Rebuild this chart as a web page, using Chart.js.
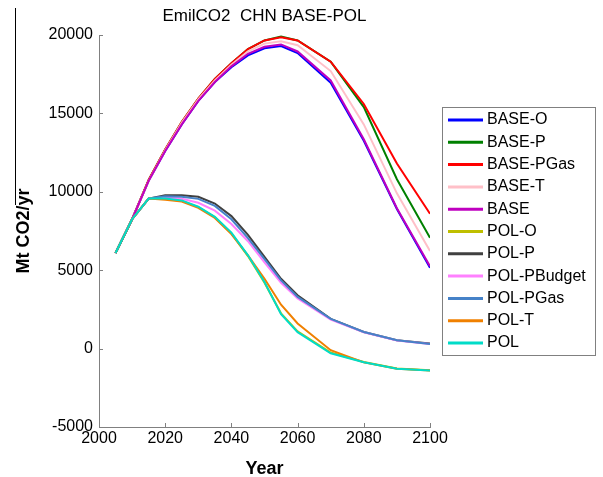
<!DOCTYPE html>
<html>
<head>
<meta charset="utf-8">
<script src="https://cdn.jsdelivr.net/npm/chart.js@4"></script>
<style>
  body { margin: 0; background: #fff; }
</style>
</head>
<body>
<canvas id="emiChart" width="603" height="477"></canvas>
<script>
// years of the model output (5-yr steps to 2060, then 10-yr)
const years = [2005, 2010, 2015, 2020, 2025, 2030, 2035, 2040, 2045, 2050, 2055, 2060, 2070, 2080, 2090, 2100];

const seriesNames = ['BASE-O', 'BASE-P', 'BASE-PGas', 'BASE-T', 'BASE',
                     'POL-O', 'POL-P', 'POL-PBudget', 'POL-PGas', 'POL-T', 'POL'];

// Mt CO2/yr
const baseO      = [6100, 8250, 10700, 12600, 14300, 15800, 17000, 17950, 18700, 19150, 19300, 18850, 16950, 13250, 8900, 5150];
const baseP      = [6100, 8250, 10750, 12700, 14450, 15950, 17200, 18200, 19100, 19650, 19900, 19650, 18300, 15400, 10800, 7070];
const basePGas   = [6100, 8250, 10750, 12700, 14450, 15950, 17200, 18200, 19100, 19650, 19850, 19650, 18300, 15600, 11800, 8600];
const baseT      = [6100, 8250, 10700, 12650, 14400, 15900, 17100, 18100, 18950, 19450, 19600, 19350, 17700, 14300, 9900, 6230];
const base       = [6100, 8250, 10700, 12600, 14300, 15800, 17000, 18000, 18800, 19250, 19400, 18950, 17100, 13350, 8950, 5250];
const polO       = [6100, 8250, 9570, 9550, 9420, 9020, 8380, 7350, 5900, 4200, 2250, 1100, -250, -850, -1270, -1380];
const polP       = [6100, 8250, 9570, 9780, 9780, 9680, 9250, 8450, 7250, 5850, 4450, 3400, 1900, 1060, 530, 320];
const polPBudget = [6100, 8250, 9570, 9650, 9550, 9300, 8800, 7950, 6850, 5500, 4200, 3200, 1850, 1040, 520, 300];
const polPGas    = [6100, 8250, 9570, 9720, 9680, 9550, 9100, 8250, 7050, 5700, 4350, 3300, 1900, 1060, 530, 300];
const polT       = [6100, 8250, 9570, 9500, 9380, 8980, 8330, 7300, 5950, 4450, 2800, 1600, -100, -880, -1280, -1390];
const pol        = [6100, 8250, 9570, 9570, 9450, 9050, 8400, 7400, 5950, 4250, 2200, 1050, -300, -870, -1280, -1390];

const yTicks = [-5000, 0, 5000, 10000, 15000, 20000];
const xTicks = [2000, 2020, 2040, 2060, 2080, 2100];

const allSeries = [baseO, baseP, basePGas, baseT, base, polO, polP, polPBudget, polPGas, polT, pol];
const colors = ['#0000ff', '#008000', '#ff0000', '#ffc0c8', '#bf00bf',
                '#bfbf00', '#404040', '#ff80ff', '#4682c8', '#f08000', '#00dcc8'];

const font = "'Liberation Sans', Arial, Helvetica, sans-serif";

const datasets = allSeries.map((vals, i) => ({
  label: seriesNames[i],
  data: years.map((yr, j) => ({ x: yr, y: vals[j] })),
  borderColor: colors[i],
  backgroundColor: colors[i],
  borderWidth: 2,
  pointRadius: 0,
  tension: 0,
  fill: false,
  order: -i   // later series on top, like the original plot
}));

// title, inward ticks and the boxed legend
const decor = {
  id: 'decor',
  afterDraw(chart) {
    const c = chart.ctx;
    const area = chart.chartArea;
    const xs = chart.scales.x, ys = chart.scales.y;
    c.save();

    c.fillStyle = '#000';
    c.font = '17px ' + font;
    c.textAlign = 'center';
    c.textBaseline = 'middle';
    c.fillText('EmilCO2  CHN BASE-POL', (area.left + area.right) / 2, 16);

    c.strokeStyle = '#808080';
    c.lineWidth = 1;
    c.beginPath();
    xTicks.forEach(t => {
      const px = Math.round(xs.getPixelForValue(t)) + 0.5;
      c.moveTo(px, area.bottom);
      c.lineTo(px, area.bottom - 4);
    });
    yTicks.forEach(t => {
      const py = Math.round(ys.getPixelForValue(t)) + 0.5;
      c.moveTo(area.left, py);
      c.lineTo(area.left + 4, py);
    });
    c.stroke();

    // stray line at the left edge of the original image
    c.strokeStyle = '#000';
    c.beginPath();
    c.moveTo(15.5, 8);
    c.lineTo(15.5, 205);
    c.stroke();

    // legend
    const lx = 442.5, ly = 107.5, lw = 153, lh = 248;
    c.strokeStyle = '#808080';
    c.strokeRect(lx, ly, lw, lh);
    c.font = '16px ' + font;
    c.textAlign = 'left';
    chart.data.datasets.forEach((ds, i) => {
      const yy = 120 + i * 22.3;
      c.strokeStyle = ds.borderColor;
      c.lineWidth = 3;
      c.beginPath();
      c.moveTo(448, yy);
      c.lineTo(483, yy);
      c.stroke();
      c.fillStyle = '#000';
      c.fillText(ds.label, 487, yy);
    });
    c.restore();
  }
};

const ctx = document.getElementById('emiChart').getContext('2d');
const chart = new Chart(ctx, {
  type: 'line',
  data: { datasets: datasets },
  options: {
    responsive: false,
    animation: false,
    layout: { padding: { top: 35, right: 173, left: 0, bottom: 0 } },
    plugins: {
      legend: { display: false },
      tooltip: { enabled: false }
    },
    scales: {
      x: {
        type: 'linear',
        min: 2000,
        max: 2100,
        afterBuildTicks: s => { s.ticks = xTicks.map(v => ({ value: v })); },
        afterFit: s => { s.height = 50; },
        grid: { display: false, drawTicks: false },
        border: { display: true, color: '#808080', width: 1 },
        ticks: {
          padding: 2,
          color: '#000',
          font: { family: font, size: 16 },
          maxRotation: 0,
          autoSkip: false,
          callback: v => String(v)
        },
        title: {
          display: true,
          text: 'Year',
          color: '#000',
          padding: { top: 0, bottom: 0 },
          font: { family: font, size: 18, weight: 'bold', lineHeight: 0.9 }
        }
      },
      y: {
        min: -5000,
        max: 20000,
        afterBuildTicks: s => { s.ticks = yTicks.map(v => ({ value: v })); },
        afterFit: s => { s.width = 99; },
        grid: { display: false, drawTicks: false },
        border: { display: true, color: '#808080', width: 1 },
        ticks: {
          padding: 6,
          color: '#000',
          font: { family: font, size: 16 },
          callback: v => String(v)
        },
        title: {
          display: true,
          text: 'Mt CO2/yr',
          color: '#000',
          padding: { top: 13, bottom: 4 },
          font: { family: font, size: 18, weight: 'bold' }
        }
      }
    }
  },
  plugins: [decor]
});
</script>
</body>
</html>
